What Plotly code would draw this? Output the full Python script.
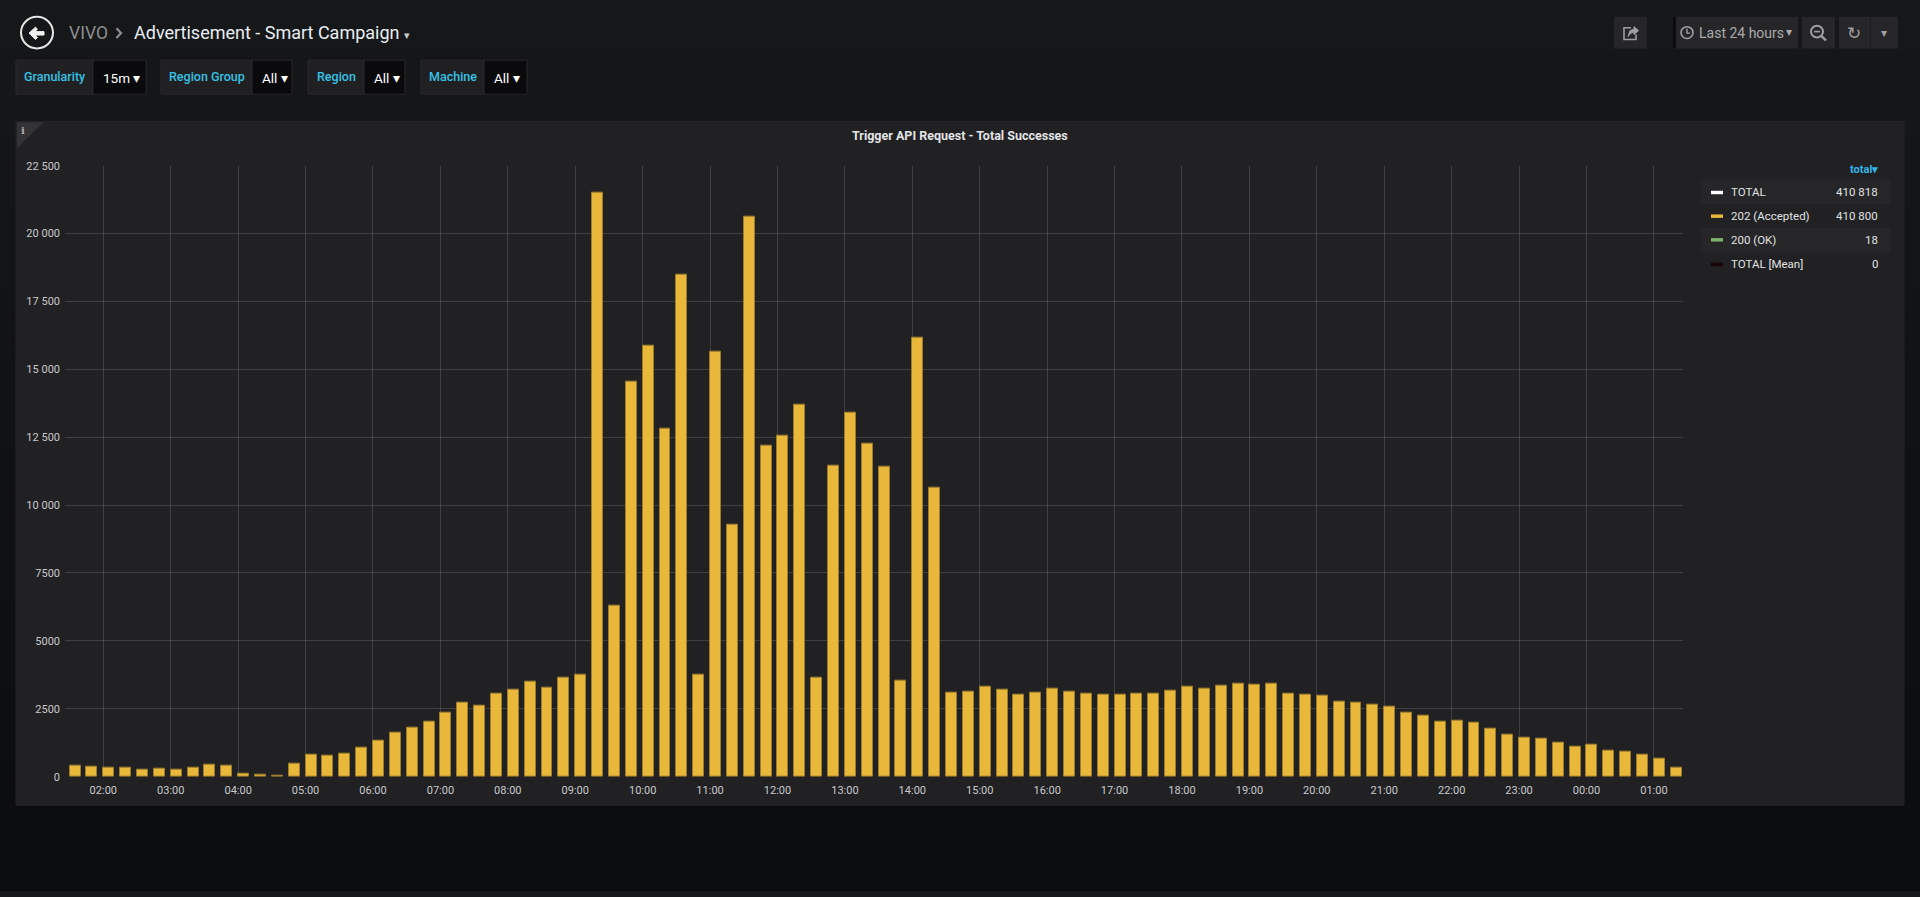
import datetime as dt
import plotly.graph_objects as go

# ---------------- data ----------------
start_time = dt.datetime(2018, 7, 10, 1, 30)
interval_minutes = 15
accepted_202 = [
    423, 375, 314, 314, 254, 278, 254, 326, 435, 399,
    97, 60, 48, 471, 809, 785, 846, 1075, 1329, 1619,
    1788, 2042, 2368, 2742, 2597, 3044, 3201, 3515, 3286, 3660,
    3769,
    21500, 6303, 14548, 15883, 12813, 18478, 3767, 15660, 9269, 20614,
    12205, 12561, 13688, 3648, 11449, 13391, 12264, 11404, 3530, 16165,
    10633,
    3105, 3141, 3322, 3189, 3032, 3092, 3225, 3141, 3068, 3008,
    3032, 3044, 3068, 3177, 3322, 3250, 3346, 3431, 3394, 3431,
    3044, 3020,
    2984, 2778, 2730, 2646, 2573, 2368, 2235, 2042, 2066, 1981,
    1764, 1546, 1450, 1389, 1256, 1111, 1184, 966, 918, 809,
    676, 338,
]
times = [start_time + dt.timedelta(minutes=interval_minutes * i) for i in range(len(accepted_202))]

y_tick_values = [0, 2500, 5000, 7500, 10000, 12500, 15000, 17500, 20000, 22500]
y_tick_labels = ["0", "2500", "5000", "7500", "10 000", "12 500", "15 000", "17 500", "20 000", "22 500"]

legend_names = ["TOTAL", "202 (Accepted)", "200 (OK)", "TOTAL [Mean]"]
legend_totals = ["410 818", "410 800", "18", "0"]
legend_colors = ["#ffffff", "#EAB839", "#7EB26D", "#1a0505"]

variables = [("Granularity", "15m"), ("Region Group", "All"), ("Region", "All"), ("Machine", "All")]

# ---------------- helpers ----------------
W, H = 1920, 897


def px(x):
    return x / W


def py(y):
    return 1 - y / H


shapes = []
annotations = []


def rect(x0, y0, x1, y1, fill, line=None, lw=1, layer="below"):
    shapes.append(dict(type="rect", xref="paper", yref="paper",
                       x0=px(x0), x1=px(x1), y0=py(y1), y1=py(y0),
                       fillcolor=fill, layer=layer,
                       line=dict(color=line if line else fill, width=lw if line else 0)))


def text(x, y, s, size=12, color="#d8d9da", xanchor="left", weight="normal", family="Roboto"):
    annotations.append(dict(x=px(x), y=py(y), xref="paper", yref="paper", text=s,
                            showarrow=False, xanchor=xanchor, yanchor="middle",
                            font=dict(size=size, color=color, family=family, weight=weight)))


def path(points, close=True, fill=None, line="#ffffff", lw=1.5, layer="above"):
    d = "M " + " L ".join(f"{px(a):.6f},{py(b):.6f}" for a, b in points)
    if close:
        d += " Z"
    shapes.append(dict(type="path", xref="paper", yref="paper", path=d,
                       fillcolor=fill if fill else "rgba(0,0,0,0)", layer=layer,
                       line=dict(color=line, width=lw)))


def circle(cx, cy, r, line="#ffffff", lw=1.5, fill=None, layer="above"):
    shapes.append(dict(type="circle", xref="paper", yref="paper",
                       x0=px(cx - r), x1=px(cx + r), y0=py(cy + r), y1=py(cy - r),
                       fillcolor=fill if fill else "rgba(0,0,0,0)", layer=layer,
                       line=dict(color=line, width=lw)))


# ---------------- page background gradient ----------------
top_c = (0x16, 0x17, 0x19)
bot_c = (0x0b, 0x0c, 0x0e)
n_bands = 40
for i in range(n_bands):
    t = i / (n_bands - 1)
    c = tuple(round(top_c[k] + (bot_c[k] - top_c[k]) * t) for k in range(3))
    rect(0, H * i / n_bands, W, H * (i + 1) / n_bands + 1, "rgb(%d,%d,%d)" % c)

# ---------------- header ----------------
circle(37, 27, 16, line="#e8e8e8", lw=2)
path([(29, 27.5), (35.5, 21.5), (37.5, 23.5), (35, 26), (44, 26), (44, 29.5), (35, 29.5), (37.5, 32), (35.5, 34)],
     fill="#f0f0f0", line="#f0f0f0", lw=1)
text(67, 27, "VIVO", size=17.5, color="#8e8e90")
path([(116.5, 22.5), (121, 27.5), (116.5, 32.5)], close=False, line="#8e8e90", lw=2.2)
text(132, 27, "Advertisement - Smart Campaign", size=18, color="#e9edf2")
text(402, 30, "▾", size=11, color="#c8c9ca")

# variables bar
var_boxes = [(16, 93, 146), (161, 252, 292), (308, 364, 405), (421, 484, 527)]
for (lbl, val), (x0, xs, x1) in zip(variables, var_boxes):
    rect(x0, 55, xs, 89.5, "#202023", "#28282b")
    rect(xs, 55, x1, 89.5, "#0a0a0c", "#28282b")
    text((x0 + xs) / 2, 72, lbl, size=12.5, color="#35c0e4", xanchor="center", weight=500)
    text(xs + 7.5, 73, val + " ▾", size=13.5, color="#ffffff")

# top right buttons
btn = "#262628"
rect(1614, 11, 1647, 43, btn)
rect(1673, 11, 1798, 43, btn)
rect(1673, 11, 1676, 43, "#0d0d0f")
rect(1802, 11, 1835, 43, btn)
rect(1839, 11, 1898, 43, btn)
rect(1870, 11, 1871, 43, "#1c1c1e")
# share icon
path([(1631, 22), (1624, 22), (1624, 34), (1636, 34), (1636, 29)], close=False, line="#a0a0a2", lw=1.6)
path([(1628, 31), (1630, 25), (1634, 23.5), (1634, 21), (1638.5, 25), (1634, 29), (1634, 26.5), (1631, 27.5)],
     fill="#a0a0a2", line="#a0a0a2", lw=1)
# clock + time picker
circle(1687, 27, 6, line="#a0a0a2", lw=1.6)
path([(1687, 23), (1687, 27.5), (1690, 27.5)], close=False, line="#a0a0a2", lw=1.4)
text(1697, 27, "Last 24 hours", size=14, color="#a9aaac")
text(1784, 26, "▾", size=12, color="#a9aaac")
# zoom out icon
circle(1817, 26, 6, line="#a0a0a2", lw=2)
path([(1814, 26), (1820, 26)], close=False, line="#a0a0a2", lw=1.6)
path([(1821.5, 30.5), (1826, 35)], close=False, line="#a0a0a2", lw=2.4)
# refresh
text(1854, 27, "↻", size=17, color="#a0a0a2", xanchor="center", family="DejaVu Sans")
text(1884, 27, "▾", size=12, color="#a0a0a2", xanchor="center")

# ---------------- panel ----------------
rect(16, 117, 1904, 811, "#212124", "#252528")
path([(17, 118), (44, 118), (17, 144)], fill="#333336", line="#333336", lw=0, layer="below")
text(23, 126, "i", size=10, color="#b0b0b2", xanchor="center", weight="bold", family="DejaVu Serif")
text(960, 131, "Trigger API Request - Total Successes", size=12.5, color="#e3e4e5",
     xanchor="center", weight="bold")

# ---------------- legend (table style) ----------------
text(1880, 166, "total▾", size=11, color="#33b5e5", xanchor="right", weight="bold")
row_centers = [189, 213, 237, 262]
for i, (name, tot, col) in enumerate(zip(legend_names, legend_totals, legend_colors)):
    yc = row_centers[i]
    if i % 2 == 0:
        rect(1701, yc - 12, 1890, yc + 12, "#262628")
    rect(1711, yc - 1.5, 1723, yc + 2, col, layer="above")
    text(1729, yc, name, size=11.5, color="#e0e1e2")
    text(1880, yc, tot, size=11.5, color="#e0e1e2", xanchor="right")

# ---------------- bars ----------------
fig = go.Figure()
fig.add_trace(go.Bar(
    x=times, y=accepted_202, name="202 (Accepted)",
    width=interval_minutes * 60 * 1000 * 0.65, offset=0,
    marker=dict(color="#E9B83A", line=dict(color="#9a7c2c", width=1)),
    hoverinfo="skip", showlegend=False,
))

x_start = dt.datetime(2018, 7, 10, 1, 25, 54)
x_end = x_start + dt.timedelta(hours=24)

fig.update_layout(
    width=W, height=H,
    margin=dict(l=0, r=0, t=0, b=0),
    paper_bgcolor="#161719",
    plot_bgcolor="rgba(0,0,0,0)",
    shapes=shapes,
    annotations=annotations,
    showlegend=False,
    bargap=0,
    font=dict(family="Roboto", color="#c8c9ca"),
    xaxis=dict(
        domain=[px(65), px(1683)],
        type="date",
        range=[x_start, x_end],
        tick0=dt.datetime(2018, 7, 10, 2, 0),
        dtick=3600000,
        tickformat="%H:%M",
        showgrid=True, gridcolor="rgba(255,255,255,0.14)", gridwidth=1,
        zeroline=False, showline=False,
        ticks="", ticklabelstandoff=5,
        tickfont=dict(size=11, color="#c8c9ca", family="Roboto"),
        fixedrange=True,
    ),
    yaxis=dict(
        domain=[py(782), py(162)],
        range=[0, 22500],
        tickvals=y_tick_values, ticktext=y_tick_labels,
        showgrid=True, gridcolor="rgba(255,255,255,0.14)", gridwidth=1,
        zeroline=False, showline=False,
        ticks="", ticklabelstandoff=4,
        tickfont=dict(size=11, color="#c8c9ca", family="Roboto"),
        fixedrange=True,
    ),
)

fig.write_html(
    "out.html",
    config={"displayModeBar": False},
    post_script="document.body.style.margin='0';document.body.style.overflow='hidden';"
                "document.documentElement.style.overflow='hidden';"
                "document.body.style.background='#0b0c0e';",
)
